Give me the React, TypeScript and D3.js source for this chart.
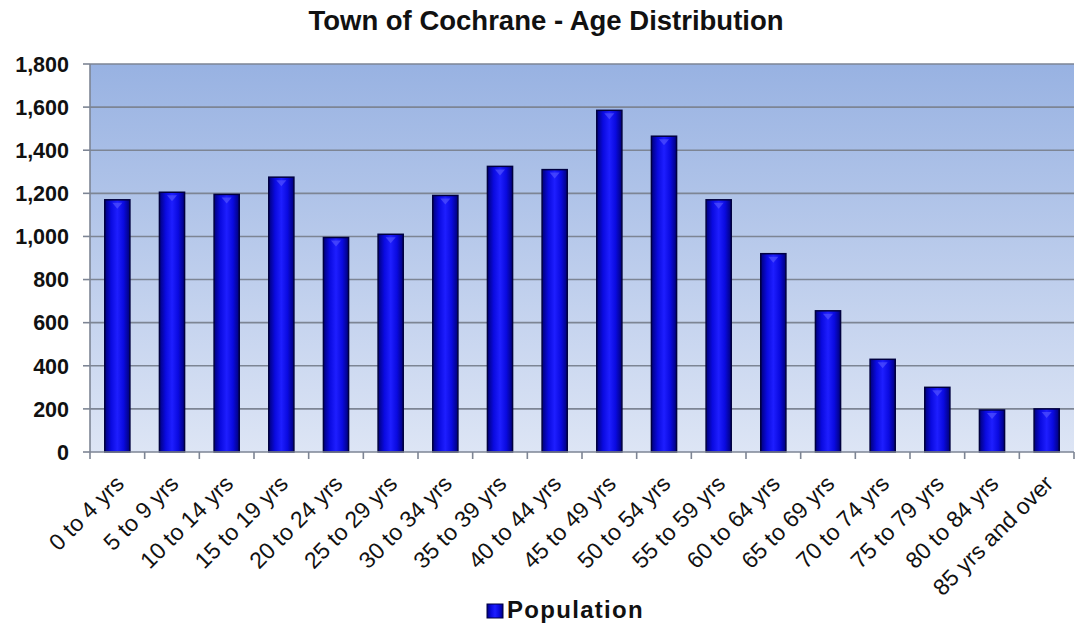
import React from "react";
import * as d3 from "d3";

const categories = [
  "0 to 4 yrs", "5 to 9 yrs", "10 to 14 yrs", "15 to 19 yrs", "20 to 24 yrs",
  "25 to 29 yrs", "30 to 34 yrs", "35 to 39 yrs", "40 to 44 yrs", "45 to 49 yrs",
  "50 to 54 yrs", "55 to 59 yrs", "60 to 64 yrs", "65 to 69 yrs", "70 to 74 yrs",
  "75 to 79 yrs", "80 to 84 yrs", "85 yrs and over",
];
const population = [1170, 1205, 1195, 1275, 995, 1010, 1190, 1325, 1310, 1585, 1465, 1170, 920, 655, 430, 300, 195, 200];
const yTicks = [0, 200, 400, 600, 800, 1000, 1200, 1400, 1600, 1800];

const W = 1078, H = 626;
const left = 90, right = 1074, top = 64, bottom = 452;
const FONT = "Liberation Sans, Arial, sans-serif";

export default function App() {
  const x = d3.scaleBand<string>().domain(categories).range([left, right]).paddingInner(0.54).paddingOuter(0.27);
  const band = d3.scaleBand<string>().domain(categories).range([left, right]);
  const y = d3.scaleLinear().domain([0, 1800]).range([bottom, top]);
  const fmt = d3.format(",");
  return (
    <svg width={W} height={H} style={{ position: "absolute", left: 0, top: 0, background: "#fff" }}>
      <defs>
        <linearGradient id="bg" x1="0" y1="0" x2="0" y2="1">
          <stop offset="0" stopColor="#98b2e2" />
          <stop offset="1" stopColor="#dde5f5" />
        </linearGradient>
        <linearGradient id="bar" x1="0" y1="0" x2="1" y2="0">
          <stop offset="0" stopColor="#00007a" />
          <stop offset="0.25" stopColor="#0a0ae0" />
          <stop offset="0.5" stopColor="#1e1eff" />
          <stop offset="0.75" stopColor="#0a0ae0" />
          <stop offset="1" stopColor="#00007a" />
        </linearGradient>
      </defs>
      <text x={546} y={30} textAnchor="middle" fontFamily={FONT} fontWeight="bold" fontSize={27.5} fill="#111">
        Town of Cochrane - Age Distribution
      </text>
      <rect x={left} y={top} width={right - left} height={bottom - top} fill="url(#bg)" />
      {yTicks.map((t) => (
        <g key={t}>
          {t > 0 && <line x1={left} x2={right} y1={y(t)} y2={y(t)} stroke="#7d8594" strokeWidth={1.6} />}
          <line x1={left - 7} x2={left} y1={y(t)} y2={y(t)} stroke="#7d8594" strokeWidth={1.6} />
          <text x={69} y={y(t)} dy="0.36em" textAnchor="end" fontFamily={FONT} fontWeight="bold" fontSize={21.5} fill="#111">
            {fmt(t)}
          </text>
        </g>
      ))}
      <line x1={left} x2={left} y1={top} y2={bottom} stroke="#7d8594" strokeWidth={1.6} />
      {categories.map((c, i) => (
        <g key={c}>
          <rect x={x(c)} y={y(population[i])} width={x.bandwidth()} height={bottom - y(population[i])} fill="url(#bar)" stroke="#000040" strokeWidth={1.5} />
          <path
            d={`M${x(c)! + x.bandwidth() * 0.3},${y(population[i]) + 3} L${x(c)! + x.bandwidth() * 0.7},${y(population[i]) + 3} L${x(c)! + x.bandwidth() * 0.5},${y(population[i]) + 9} Z`}
            fill="#5a5aff" opacity={0.6}
          />
        </g>
      ))}
      <line x1={left} x2={right} y1={bottom} y2={bottom} stroke="#7d8594" strokeWidth={1.6} />
      {categories.map((c) => (
        <line key={"t" + c} x1={band(c)!} x2={band(c)!} y1={bottom} y2={bottom + 7} stroke="#7d8594" strokeWidth={1.6} />
      ))}
      <line x1={right} x2={right} y1={bottom} y2={bottom + 7} stroke="#7d8594" strokeWidth={1.6} />
      {categories.map((c) => {
        const cx = band(c)! + band.bandwidth() / 2 + 8;
        const ty = bottom + 33;
        return (
          <text key={"l" + c} x={cx} y={ty} textAnchor="end" transform={`rotate(-45 ${cx} ${ty})`} fontFamily={FONT} fontSize={23} fill="#111">
            {c}
          </text>
        );
      })}
      <rect x={487} y={604} width={16} height={14} fill="url(#bar)" stroke="#000040" strokeWidth={1} />
      <text x={507} y={618} fontFamily={FONT} fontWeight="bold" fontSize={24} letterSpacing={1.3} fill="#111">
        Population
      </text>
    </svg>
  );
}
